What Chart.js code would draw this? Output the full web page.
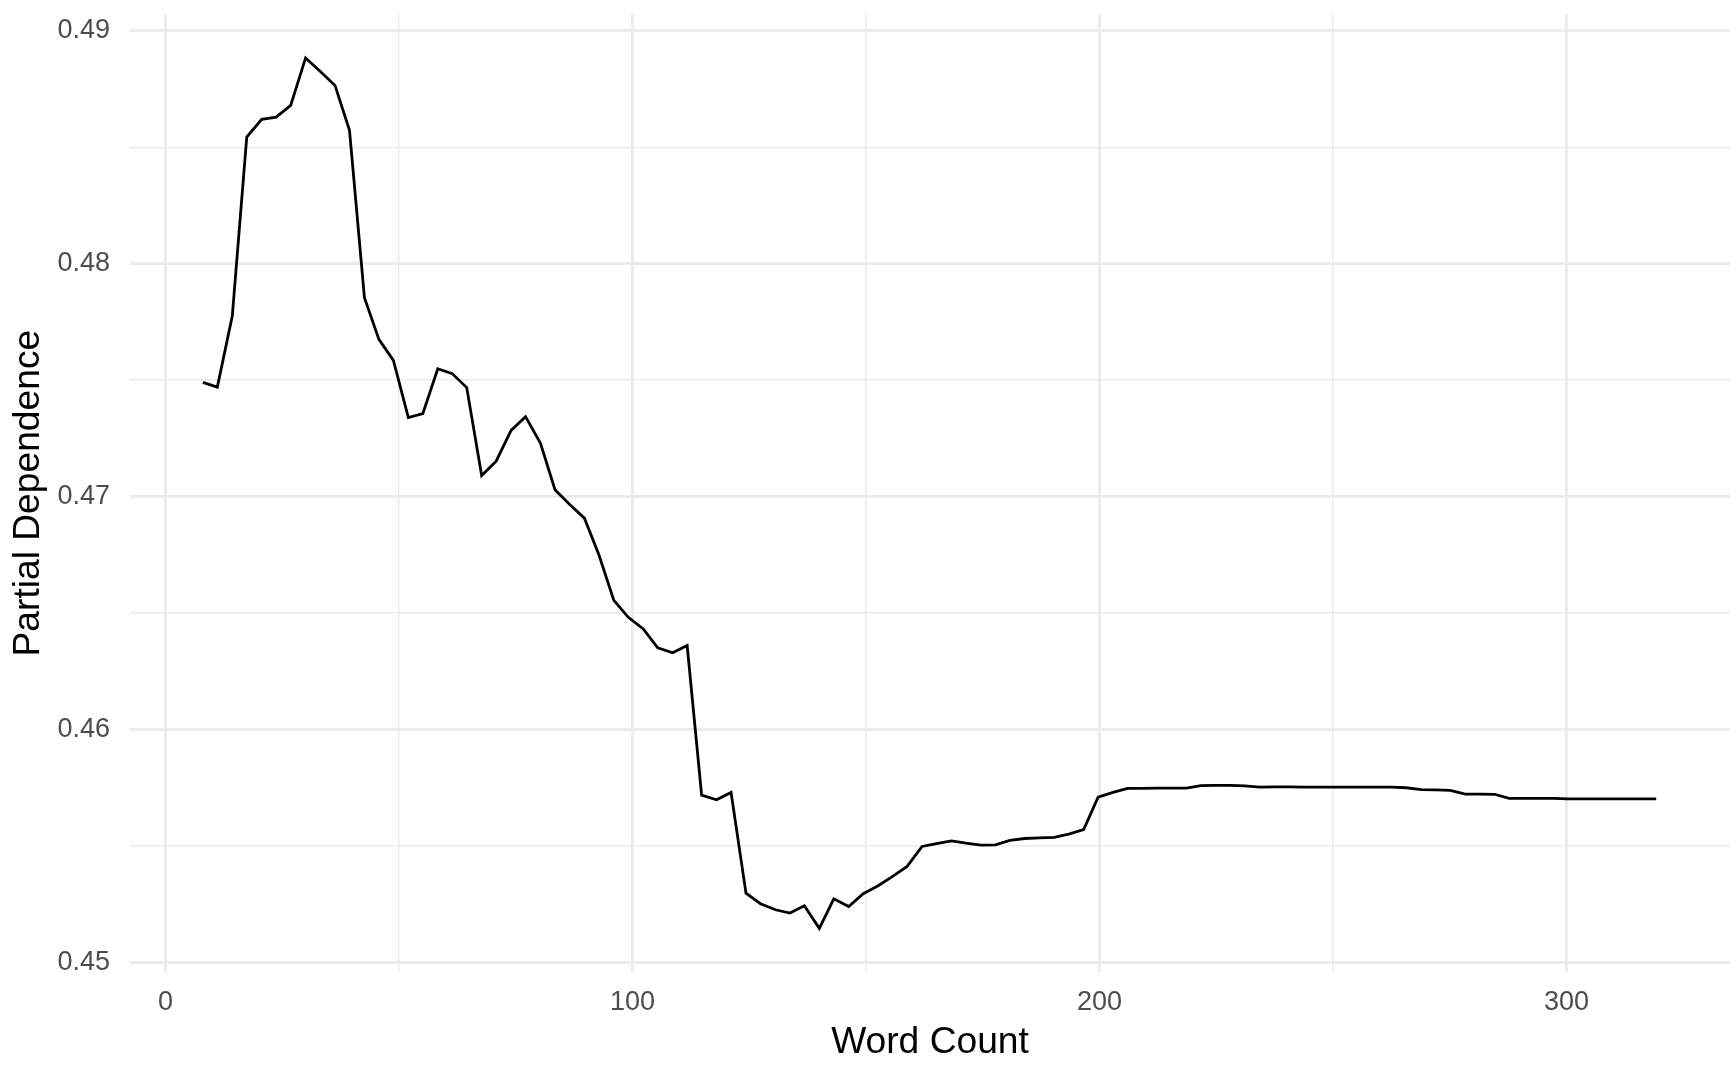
<!DOCTYPE html>
<html>
<head>
<meta charset="utf-8">
<title>Partial Dependence</title>
<script src="https://cdn.jsdelivr.net/npm/chart.js@4.4.1/dist/chart.umd.min.js"></script>
<style>
  html, body { margin: 0; padding: 0; background: #ffffff; }
  #wrap { position: relative; width: 1730px; height: 1066px; }
</style>
</head>
<body>
<div id="wrap"><canvas id="chart"></canvas></div>
<script>
// ===== Data =====
var wordCount = [
  8.0, 11.1, 14.3, 17.4, 20.6, 23.7, 26.8, 30.0, 33.1, 36.3,
  39.4, 42.6, 45.7, 48.8, 52.0, 55.1, 58.3, 61.4, 64.5, 67.7,
  70.8, 74.0, 77.1, 80.3, 83.4, 86.5, 89.7, 92.8, 96.0, 99.1,
  102.3, 105.4, 108.6, 111.7, 114.8, 118.0, 121.1, 124.3, 127.4, 130.6,
  133.7, 136.8, 140.0, 143.1, 146.3, 149.4, 152.6, 155.7, 158.8, 162.0,
  165.1, 168.3, 171.4, 174.6, 177.7, 180.8, 184.0, 187.1, 190.3, 193.4,
  196.6, 199.7, 202.9, 206.0, 209.1, 212.3, 215.4, 218.6, 221.7, 224.9,
  228.0, 231.1, 234.3, 237.4, 240.6, 243.7, 246.9, 250.0, 253.1, 256.3,
  259.4, 262.6, 265.7, 268.9, 272.0, 275.1, 278.3, 281.4, 284.6, 287.7,
  290.9, 294.0, 297.2, 300.3, 303.4, 306.6, 309.7, 312.9, 316.0, 319.2
];
var partialDependence = [
  0.4749, 0.4747, 0.47775, 0.48544, 0.4862, 0.4863, 0.4868, 0.48884, 0.48827, 0.48766,
  0.48573, 0.47854, 0.47675, 0.47585, 0.47339, 0.47356, 0.47549, 0.47528, 0.47468, 0.4709,
  0.47152, 0.47284, 0.47343, 0.47229, 0.47029, 0.46967, 0.46907, 0.4675, 0.46554, 0.46481,
  0.46431, 0.4635, 0.46329, 0.4636, 0.45717, 0.45697, 0.45729, 0.45296, 0.45251, 0.45225,
  0.45211, 0.45242, 0.45145, 0.45272, 0.45239, 0.45294, 0.45328, 0.45368, 0.45411, 0.45497,
  0.45509, 0.45521, 0.45511, 0.45503, 0.45504, 0.45523, 0.45531, 0.45534, 0.45536, 0.4555,
  0.45569, 0.45709, 0.45729, 0.45746, 0.45746, 0.45747, 0.45747, 0.45747, 0.45758, 0.45759,
  0.45759, 0.45757, 0.45752, 0.45753, 0.45753, 0.45752, 0.45752, 0.45752, 0.45752, 0.45752,
  0.45752, 0.45752, 0.45749, 0.45741, 0.4574, 0.45738, 0.45722, 0.45722, 0.45721, 0.45703,
  0.45703, 0.45703, 0.45703, 0.45701, 0.45701, 0.45701, 0.45701, 0.45701, 0.45701, 0.45701
];
var xMajorTicks = [0, 100, 200, 300];
var xMinorTicks = [50, 150, 250];
var yMajorTicks = [0.45, 0.46, 0.47, 0.48, 0.49];
var yMinorTicks = [0.455, 0.465, 0.475, 0.485];
var yTickLabels = ["0.45", "0.46", "0.47", "0.48", "0.49"];
var xTitle = "Word Count";
var yTitle = "Partial Dependence";

(function() {
  "use strict";

  var FONT = "'Liberation Sans', Arial, Helvetica, sans-serif";
  var GRID = "#ebebeb";
  var TICK_COLOR = "#4d4d4d";

  // ===== Tick helpers =====
  function tickList(major, minor) {
    var list = [];
    major.forEach(function(v) { list.push({ value: v, major: true }); });
    minor.forEach(function(v) { list.push({ value: v, major: false }); });
    list.sort(function(a, b) { return a.value - b.value; });
    return list;
  }

  // ggplot-style: minor grid lines are half as wide as the major ones
  function gridWidth(ctx) {
    return ctx.tick && ctx.tick.major ? 2.9 : 1.5;
  }

  var points = [];
  for (var i = 0; i < wordCount.length; i++) {
    points.push({ x: wordCount[i], y: partialDependence[i] });
  }

  new Chart(document.getElementById("chart"), {
    type: "line",
    data: {
      datasets: [{
        data: points,
        borderColor: "#000000",
        borderWidth: 2.8,
        pointRadius: 0,
        tension: 0,
        fill: false
      }]
    },
    options: {
      responsive: true,
      maintainAspectRatio: false,
      animation: false,
      events: [],
      layout: { padding: { top: 14.4, right: 0, bottom: 0, left: 0 } },
      plugins: {
        legend: { display: false },
        tooltip: { enabled: false }
      },
      scales: {
        x: {
          type: "linear",
          min: -7.6,
          max: 335.0,
          afterBuildTicks: function(axis) {
            axis.ticks = tickList(xMajorTicks, xMinorTicks);
          },
          afterFit: function(axis) {
            axis.height = 94.1;
            axis.paddingLeft = 0;
            axis.paddingRight = 0;
          },
          ticks: {
            autoSkip: false,
            maxRotation: 0,
            padding: 14,
            color: TICK_COLOR,
            font: { family: FONT, size: 27 },
            callback: function(value, index, ticks) {
              return ticks[index].major ? String(value) : "";
            }
          },
          grid: { color: GRID, lineWidth: gridWidth, drawTicks: false },
          border: { display: false },
          title: {
            display: true,
            text: xTitle,
            color: "#000000",
            font: { family: FONT, size: 37.2 },
            padding: { top: 0, bottom: 1 }
          }
        },
        y: {
          type: "linear",
          min: 0.44958,
          max: 0.49071,
          afterBuildTicks: function(axis) {
            axis.ticks = tickList(yMajorTicks, yMinorTicks);
          },
          afterFit: function(axis) {
            axis.width = 130;
            axis.paddingTop = 0;
            axis.paddingBottom = 0;
          },
          ticks: {
            autoSkip: false,
            padding: 20,
            color: TICK_COLOR,
            font: { family: FONT, size: 27 },
            callback: function(value, index, ticks) {
              if (!ticks[index].major) return "";
              var k = yMajorTicks.indexOf(value);
              return k >= 0 ? yTickLabels[k] : value.toFixed(2);
            }
          },
          grid: { color: GRID, lineWidth: gridWidth, drawTicks: false },
          border: { display: false },
          title: {
            display: true,
            text: yTitle,
            color: "#000000",
            font: { family: FONT, size: 37.2 },
            padding: { top: 6, bottom: 0 }
          }
        }
      }
    }
  });
})();
</script>
</body>
</html>
